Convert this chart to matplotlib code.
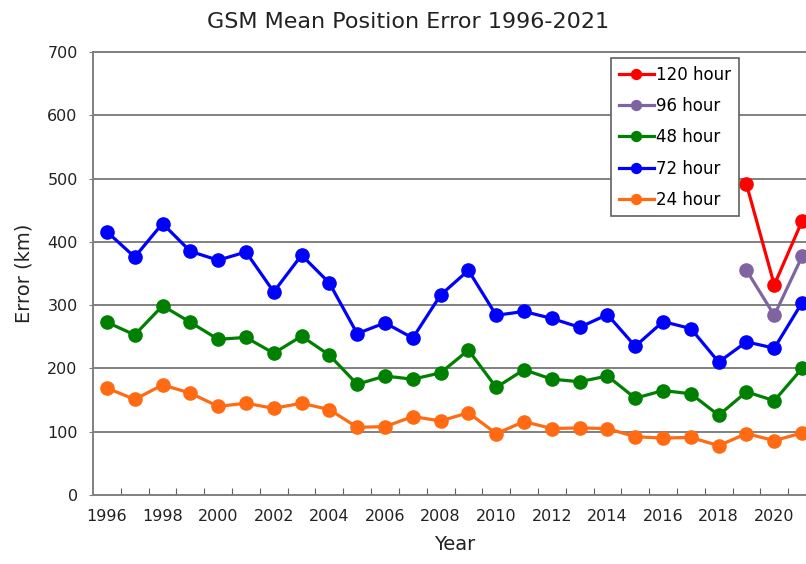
import matplotlib
matplotlib.use("Agg")
import matplotlib.pyplot as plt
import numpy as np

years = list(range(1996, 2022))
h24 = [169, 151, 174, 161, 140, 145, 137, 145, 135, 107, 108, 124, 117,
       130, 97, 116, 105, 106, 105, 92, 90, 91, 78, 97, 86, 98]
h48 = [273, 253, 299, 273, 246, 249, 224, 251, 221, 175, 188, 183, 193,
       229, 170, 198, 183, 179, 188, 153, 165, 160, 126, 163, 149, 200]
h72 = [416, 376, 429, 385, 371, 384, 321, 379, 335, 255, 272, 248, 316,
       355, 284, 290, 279, 265, 285, 235, 274, 263, 210, 242, 232, 304]
years_long = [2019, 2020, 2021]
h96 = [355, 284, 377]
h120 = [491, 332, 433]

title = "GSM Mean Position Error 1996-2021"
xlabel = "Year"
ylabel = "Error (km)"
ytick_vals = [0, 100, 200, 300, 400, 500, 600, 700]
xlabel_years = list(range(1996, 2021, 2))

plt.rcParams['font.family'] = ['DejaVu Sans']
W, H = 806, 564
fig = plt.figure(figsize=(W / 100, H / 100), dpi=100)
ax = fig.add_axes([93 / W, (H - 495) / H, (816 - 93) / W, (495 - 52) / H])

lw = 2.3
ms = 9.5
l120, = ax.plot(years_long, h120, color='#ff0000', lw=lw, marker='o', ms=ms, label='120 hour', zorder=5)
l96, = ax.plot(years_long, h96, color='#8064a2', lw=lw, marker='o', ms=ms, label='96 hour', zorder=4)
l48, = ax.plot(years, h48, color='#008000', lw=lw, marker='o', ms=ms, label='48 hour', zorder=3)
l72, = ax.plot(years, h72, color='#0000ff', lw=lw, marker='o', ms=ms, label='72 hour', zorder=3)
l24, = ax.plot(years, h24, color='#ff6a13', lw=lw, marker='o', ms=ms, label='24 hour', zorder=3)

ax.set_xlim(1995.5, 2021.5)
ax.set_ylim(0, 700)
ax.set_yticks(ytick_vals)
ax.set_yticklabels([str(v) for v in ytick_vals], fontsize=11.5, color='#222222')
ax.yaxis.grid(True, color='#808080', lw=1.4)
ax.set_axisbelow(True)

ax.set_xticks(np.arange(1996.5, 2021.5, 1.0))
ax.set_xticklabels([])
ax.tick_params(axis='x', which='major', direction='in', length=5, color='#606060')
ax.set_xticks(xlabel_years, minor=True)
ax.set_xticklabels([str(y) for y in xlabel_years], minor=True, fontsize=11.5, color='#222222')
ax.tick_params(axis='x', which='minor', length=0, pad=10)
ax.tick_params(axis='y', length=3, color='#808080', pad=8)

for s in ax.spines.values():
    s.set_color('#808080')
    s.set_linewidth(1.4)

ax.set_xlabel(xlabel, fontsize=14, color='#222222', labelpad=8)
ax.set_ylabel(ylabel, fontsize=14, color='#222222', labelpad=10)
fig.text(408 / W, 1 - 22 / H, title, ha='center', va='center', fontsize=16, color='#222222')

leg = ax.legend(handles=[l120, l96, l48, l72, l24], loc='upper left',
                bbox_to_anchor=((611 - 93) / 723, (495 - 58) / 443), borderaxespad=0,
                fontsize=12, frameon=True, fancybox=False, edgecolor='#606060',
                framealpha=1.0,
                handlelength=2.1, handletextpad=0.15, labelspacing=0.8, borderpad=0.45,
                markerscale=0.75)
leg.get_frame().set_linewidth(1.2)
leg.set_zorder(10)

fig.savefig('out.png', dpi=100)
